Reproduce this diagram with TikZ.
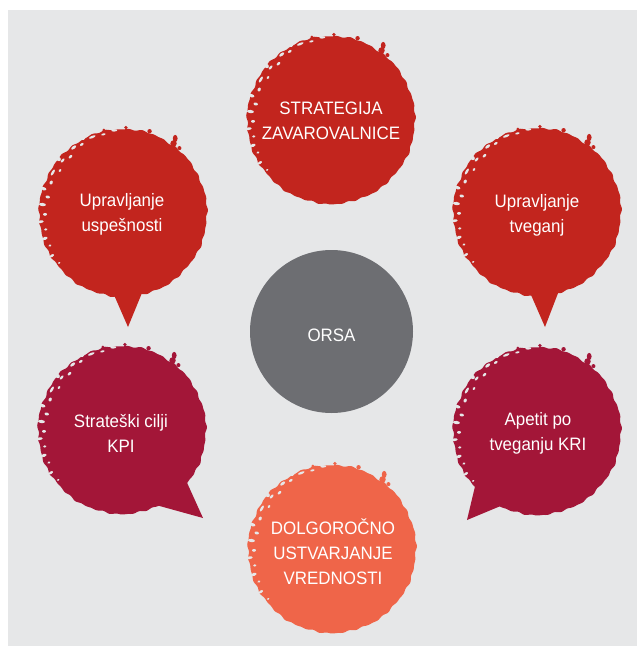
\documentclass[tikz,border=0pt]{standalone}
\usepackage{fontspec}
\setmainfont{Liberation Sans}[FakeStretch=0.94]
\definecolor{bgc}{HTML}{E6E7E8}
\definecolor{redc}{HTML}{C2251E}
\definecolor{crimc}{HTML}{A31638}
\definecolor{orgc}{HTML}{EF6549}
\definecolor{grayc}{HTML}{6D6E72}
\tikzset{
  lbl/.style={text=white, font=\fontsize{18}{25}\selectfont, align=center, inner sep=0pt},
  pics/blob/.style={code={
    \fill[#1] plot[domain=0:359, samples=360, variable=\t]
      (\t:{84+0.35*sin(11*\t)+0.4*sin(29*\t+40)+0.45*sin(43*\t+10)}) -- cycle;
    % small protrusions on the upper right rim
    \fill[#1] (54:86) circle [radius=3.2];
    \fill[#1] (55:91) ellipse [x radius=2.4, y radius=3.6];
    \fill[#1] (49:86) circle [radius=2];
    \fill[#1] (72:86) circle [radius=2.2];
    \fill[#1] (88:85.5) circle [radius=1.8];
    \fill[#1] (103:85) circle [radius=1.6];
    % worn speckles on the upper left rim
    \foreach \a/\r/\w/\h in {
      96/83/3/1.1, 104/81/2.2/1, 112/82/3.5/1.2, 121/80/2/1.2, 127/82/3/1.4,
      133/77/2.2/1.3, 139/80/2.6/1.2, 146/76/1.8/1.4, 150/81/3.4/1.3,
      157/78/2/1.6, 163/83/1.6/2.8, 168/77/1.5/2.2, 174/81/1.6/3.5,
      181/78/1.4/2, 186/83/1.4/3.2, 192/79/1.2/1.8, 198/82/1.5/2.6,
      204/80/1.1/1.6, 211/83/1.3/2.4, 218/81/1/1.4, 140/84/2/2.4, 118/85/2.4/2}
      {\fill[bgc, rotate around={\a:(\a:\r)}] (\a:\r) ellipse [x radius=\h, y radius=\w];}
  }}
}
\begin{document}
\begin{tikzpicture}[x=1pt,y=1pt]
\useasboundingbox (0,0) rectangle (639,-646);
\fill[white] (0,0) rectangle (639,-646);
\fill[bgc] (8,-10) rectangle (637,-646);

% top: strategy
\pic at (331,-120) {blob=redc};
\node[lbl] (strat) at (331,-121) {STRATEGIJA\\ZAVAROVALNICE};

% upper left
\fill[redc] (111,-288) -- (128,-327) -- (144,-288) -- cycle;
\pic at (123,-213) {blob=redc};
\node[lbl] (uu) at (122,-214.5) {Upravljanje\\uspešnosti};

% upper right
\fill[redc] (528,-288) -- (545,-327) -- (560,-288) -- cycle;
\pic at (537,-212) {blob=redc};
\node[lbl] (ut) at (537,-215.5) {Upravljanje\\tveganj};

% centre
\node[circle, fill=grayc, minimum size=163pt, inner sep=0pt] (orsa) at (331.5,-331.5) {};
\node[lbl] (orsat) at ([yshift=-3.5pt]orsa.center) {ORSA};

% lower left
\fill[crimc] (184,-476) -- (203,-518) -- (156,-505) -- (150,-490) -- cycle;
\pic at (122,-430) {blob=crimc};
\node[lbl] (sc) at (121,-433) {Strateški cilji\\KPI};

% lower right
\fill[crimc] (477,-478) -- (467,-520) -- (503,-505) -- (505,-492) -- cycle;
\pic at (537,-431) {blob=crimc};
\node[lbl] (ak) at (538,-433) {Apetit po\\tveganju KRI};

% bottom
\pic at (332,-549) {blob=orgc};
\node[lbl] (dv) at (333,-552) {DOLGOROČNO\\USTVARJANJE\\VREDNOSTI};
\end{tikzpicture}
\end{document}
